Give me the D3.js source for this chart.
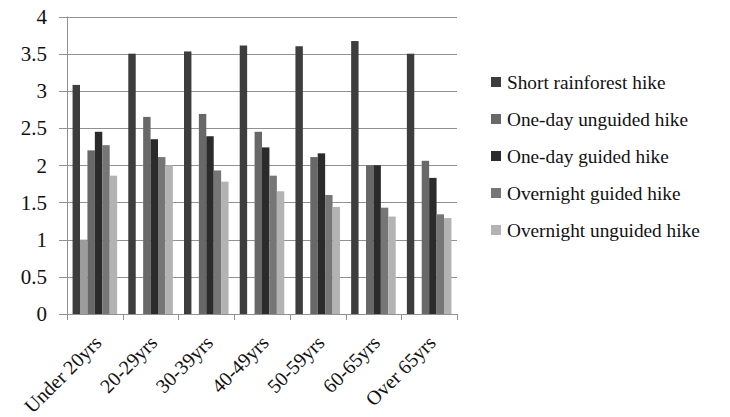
<!DOCTYPE html>
<html>
<head>
<meta charset="utf-8">
<script src="https://cdn.jsdelivr.net/npm/d3@7"></script>
<style>
  html, body { margin: 0; padding: 0; background: #fff; }
  svg { display: block; font-family: "Liberation Serif", "Times New Roman", serif; }
</style>
</head>
<body>
<svg id="chart" width="730" height="417"></svg>
<script>
// Age groups along the x axis
const categories = ["Under 20yrs", "20-29yrs", "30-39yrs", "40-49yrs", "50-59yrs", "60-65yrs", "Over 65yrs"];

// Mean rating per hike type and age group
const shortRainforest   = [3.08, 3.50, 3.53, 3.61, 3.60, 3.67, 3.50];
const unnamedSeries     = [1.00, null, null, null, null, null, null];
const oneDayUnguided    = [2.20, 2.65, 2.69, 2.45, 2.11, 2.00, 2.06];
const oneDayGuided      = [2.45, 2.35, 2.39, 2.24, 2.16, 2.00, 1.83];
const overnightGuided   = [2.27, 2.11, 1.93, 1.86, 1.60, 1.43, 1.34];
const overnightUnguided = [1.86, 2.00, 1.78, 1.65, 1.44, 1.31, 1.29];

const seriesNames  = ["Short rainforest hike", "", "One-day unguided hike", "One-day guided hike", "Overnight guided hike", "Overnight unguided hike"];
const seriesValues = [shortRainforest, unnamedSeries, oneDayUnguided, oneDayGuided, overnightGuided, overnightUnguided];
const seriesColors = ["#3d3d3d", "#9c9c9c", "#686868", "#2b2b2b", "#767676", "#b3b3b3"];

const yTicks = [0, 0.5, 1, 1.5, 2, 2.5, 3, 3.5, 4];

const svg = d3.select("#chart");
const plot = { left: 67, right: 457, top: 16.5, bottom: 314 };

const y = d3.scaleLinear().domain([0, 4]).range([plot.bottom, plot.top]);
const x0 = d3.scaleBand().domain(categories).range([plot.left, plot.right])
  .paddingInner(0.2).paddingOuter(0.1);
const x1 = d3.scaleBand().domain(d3.range(seriesValues.length)).range([0, x0.bandwidth()]);

// Horizontal gridlines with short ticks to the left of the axis
svg.append("g").selectAll("line").data(yTicks).join("line")
  .attr("x1", plot.left - 8).attr("x2", plot.right)
  .attr("y1", d => Math.round(y(d)) + 0.5).attr("y2", d => Math.round(y(d)) + 0.5)
  .attr("stroke", "#919191").attr("stroke-width", 1);

// Y tick labels
svg.append("g").selectAll("text").data(yTicks).join("text")
  .attr("x", 47).attr("y", d => y(d))
  .attr("dy", "0.35em").attr("text-anchor", "end")
  .attr("font-size", 21).attr("fill", "#111")
  .text(d => d);

// Bars
const rows = [];
categories.forEach((c, ci) => {
  seriesValues.forEach((vals, si) => {
    if (vals[ci] != null) rows.push({ c, si, v: vals[ci] });
  });
});
svg.append("g").selectAll("rect").data(rows).join("rect")
  .attr("x", d => x0(d.c) + x1(d.si))
  .attr("width", x1.bandwidth())
  .attr("y", d => y(d.v))
  .attr("height", d => y(0) - y(d.v))
  .attr("fill", d => seriesColors[d.si]);

// Y axis line
svg.append("line")
  .attr("x1", plot.left + 0.5).attr("x2", plot.left + 0.5)
  .attr("y1", plot.top).attr("y2", plot.bottom)
  .attr("stroke", "#919191");

// X axis baseline and category boundary ticks
const step = x0.step();
const boundaries = d3.range(categories.length + 1).map(i => plot.left + i * step);
svg.append("line")
  .attr("x1", plot.left).attr("x2", plot.right)
  .attr("y1", plot.bottom + 0.5).attr("y2", plot.bottom + 0.5)
  .attr("stroke", "#919191");
svg.append("g").selectAll("line").data(boundaries).join("line")
  .attr("x1", d => Math.round(d) + 0.5).attr("x2", d => Math.round(d) + 0.5)
  .attr("y1", plot.bottom).attr("y2", plot.bottom + 6)
  .attr("stroke", "#919191");

// Rotated category labels
svg.append("g").selectAll("text").data(categories).join("text")
  .attr("transform", d => `translate(${x0(d) + x0.bandwidth() / 2 + 3},${plot.bottom + 25}) rotate(-45)`)
  .attr("text-anchor", "end").attr("dy", "0.35em")
  .attr("font-size", 20).attr("fill", "#111")
  .text(d => d);

// Legend (named series only)
const legendItems = seriesNames.map((n, i) => ({ n, i })).filter(d => d.n !== "");
const legend = svg.append("g").selectAll("g").data(legendItems).join("g")
  .attr("transform", (d, k) => `translate(491,${82 + k * 37})`);
legend.append("rect")
  .attr("x", 0).attr("y", -5).attr("width", 10).attr("height", 10)
  .attr("fill", d => seriesColors[d.i]);
legend.append("text")
  .attr("x", 16).attr("y", 0).attr("dy", "0.35em")
  .attr("font-size", 19.3).attr("fill", "#111")
  .text(d => d.n);
</script>
</body>
</html>
